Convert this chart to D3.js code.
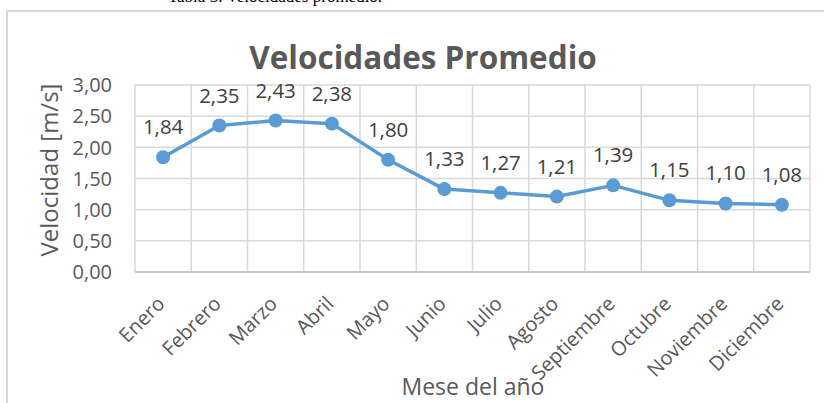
<!DOCTYPE html>
<html lang="es">
<head>
<meta charset="utf-8">
<title>Velocidades Promedio</title>
<style>
  body { margin: 0; background: #fff; }
  svg text { font-family: "Open Sans", "Noto Sans", sans-serif; }
</style>
</head>
<body>
<script src="https://d3js.org/d3.v7.min.js"></script>
<script>
// datos
const meses = ["Enero", "Febrero", "Marzo", "Abril", "Mayo", "Junio", "Julio",
  "Agosto", "Septiembre", "Octubre", "Noviembre", "Diciembre"];
const velocidades = [1.84, 2.35, 2.43, 2.38, 1.80, 1.33, 1.27, 1.21, 1.39, 1.15, 1.10, 1.08];
const yTicks = [0, 0.5, 1, 1.5, 2, 2.5, 3];

const width = 824, height = 403;
const plot = { left: 135, right: 810, top: 85, bottom: 272 };
const fmt = v => d3.format(".2f")(v).replace(".", ",");

const svg = d3.select("body").append("svg")
  .attr("width", width)
  .attr("height", height);

// texto de la leyenda de la tabla, cortado arriba
svg.append("text")
  .attr("x", 275).attr("y", 1.5)
  .attr("text-anchor", "middle")
  .style("font-family", "'Liberation Serif', serif")
  .style("font-size", "17px")
  .attr("fill", "#000")
  .text("Tabla 3. Velocidades promedio.");

// marco del grafico
svg.append("rect")
  .attr("x", 7).attr("y", 11)
  .attr("width", 840).attr("height", 420)
  .attr("fill", "#fff")
  .attr("stroke", "#d9d9d9")
  .attr("stroke-width", 2);

const x = d3.scaleBand().domain(meses).range([plot.left, plot.right]);
const y = d3.scaleLinear().domain([0, 3]).range([plot.bottom, plot.top]);

// cuadricula horizontal
svg.append("g")
  .selectAll("line")
  .data(yTicks)
  .join("line")
  .attr("x1", plot.left).attr("x2", plot.right)
  .attr("y1", d => y(d)).attr("y2", d => y(d))
  .attr("stroke", "#d9d9d9")
  .attr("stroke-width", 1.5);

// cuadricula vertical
svg.append("g")
  .selectAll("line")
  .data(d3.range(meses.length + 1))
  .join("line")
  .attr("x1", i => plot.left + i * x.step())
  .attr("x2", i => plot.left + i * x.step())
  .attr("y1", plot.top).attr("y2", plot.bottom)
  .attr("stroke", "#d9d9d9")
  .attr("stroke-width", 1.5);

// eje inferior
svg.append("line")
  .attr("x1", plot.left).attr("x2", plot.right)
  .attr("y1", plot.bottom).attr("y2", plot.bottom)
  .attr("stroke", "#bfbfbf")
  .attr("stroke-width", 1.5);

// etiquetas eje y
svg.append("g")
  .selectAll("text")
  .data(yTicks)
  .join("text")
  .attr("x", 112)
  .attr("y", d => y(d))
  .attr("dy", "0.36em")
  .attr("text-anchor", "end")
  .attr("fill", "#595959")
  .style("font-size", "20px")
  .text(fmt);

// etiquetas eje x
svg.append("g")
  .selectAll("text")
  .data(meses)
  .join("text")
  .attr("transform", d => `translate(${x(d) + x.bandwidth() / 2 + 3},${305}) rotate(-45)`)
  .attr("text-anchor", "end")
  .attr("fill", "#595959")
  .style("font-size", "20px")
  .text(d => d);

// titulos
svg.append("text")
  .attr("x", 423).attr("y", 69)
  .attr("text-anchor", "middle")
  .attr("fill", "#595959")
  .style("font-size", "31.5px")
  .style("font-weight", "bold")
  .text("Velocidades Promedio");

svg.append("text")
  .attr("transform", `translate(58,170) rotate(-90)`)
  .attr("text-anchor", "middle")
  .attr("fill", "#595959")
  .style("font-size", "24px")
  .text("Velocidad [m/s]");

svg.append("text")
  .attr("x", 473).attr("y", 395)
  .attr("text-anchor", "middle")
  .attr("fill", "#595959")
  .style("font-size", "23px")
  .text("Mese del año");

// serie
const cx = d => x(d) + x.bandwidth() / 2;

svg.append("path")
  .datum(velocidades)
  .attr("fill", "none")
  .attr("stroke", "#5b9bd5")
  .attr("stroke-width", 3.5)
  .attr("stroke-linejoin", "round")
  .attr("d", d3.line().x((d, i) => cx(meses[i])).y(d => y(d)));

svg.append("g")
  .selectAll("circle")
  .data(velocidades)
  .join("circle")
  .attr("cx", (d, i) => cx(meses[i]))
  .attr("cy", d => y(d))
  .attr("r", 7)
  .attr("fill", "#5b9bd5");

// etiquetas de datos
svg.append("g")
  .selectAll("text")
  .data(velocidades)
  .join("text")
  .attr("x", (d, i) => cx(meses[i]))
  .attr("y", d => y(d) - 23)
  .attr("text-anchor", "middle")
  .attr("fill", "#404040")
  .style("font-size", "20.5px")
  .text(fmt);
</script>
</body>
</html>
